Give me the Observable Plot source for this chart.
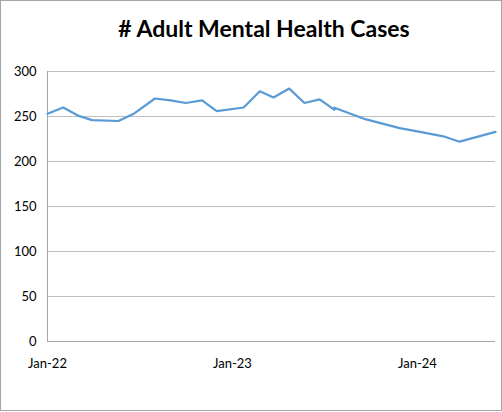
<!DOCTYPE html>
<html>
<head>
<meta charset="utf-8">
<script src="https://cdn.jsdelivr.net/npm/d3@7"></script>
<script src="https://cdn.jsdelivr.net/npm/@observablehq/plot@0.6"></script>
<style>
  html, body { margin: 0; padding: 0; background: #fff; }
  #chart { position: absolute; left: 0; top: 0; width: 500px; height: 409px; border: 1px solid #a6a6a6; background: #fff; font-family: Lato, "Open Sans", sans-serif; overflow: hidden; }
  #title { height: 49px; line-height: 54px; text-align: center; font-weight: bold; font-size: 23px; color: #000; padding-left: 26px; }
  #plot svg { display: block; }
</style>
</head>
<body>
<div id="chart">
  <div id="title"># Adult Mental Health Cases</div>
  <div id="plot"></div>
</div>
<script>
const dates = [
  "2022-01-01", "2022-02-01", "2022-03-02", "2022-03-30", "2022-05-21", "2022-06-20",
  "2022-08-01", "2022-09-01", "2022-10-01", "2022-11-02", "2022-12-01", "2023-01-23",
  "2023-02-24", "2023-03-23", "2023-04-23", "2023-05-23", "2023-06-22", "2023-07-22",
  "2023-07-20", "2023-09-20", "2023-11-27", "2024-01-06", "2024-02-21", "2024-03-24",
  "2024-06-03"
];
const cases = [
  253, 260, 251, 246, 245, 253,
  270, 268, 265, 268, 256, 260,
  278, 271, 281, 265, 269, 257,
  260, 247, 237, 233, 228, 222,
  233
];
const yTicks = [0, 50, 100, 150, 200, 250, 300];
const xTicks = ["2022-01-01", "2023-01-01", "2024-01-01"];

const data = dates.map((d, i) => ({date: new Date(d), value: cases[i]}));

const chart = Plot.plot({
  width: 500,
  height: 320,
  marginLeft: 46,
  marginRight: 6,
  marginTop: 21,
  marginBottom: 29,
  style: {fontFamily: "Lato, 'Open Sans', sans-serif", fontSize: "13px", color: "#000", background: "#fff"},
  x: {type: "utc", domain: [new Date("2022-01-01"), new Date("2024-06-03")]},
  y: {domain: [0, 300]},
  marks: [
    Plot.gridY(yTicks, {stroke: "#bfbfbf", strokeOpacity: 1, strokeWidth: 1}),
    Plot.ruleY([0], {stroke: "#a6a6a6", strokeWidth: 1}),
    Plot.ruleX([new Date("2022-01-01")], {stroke: "#a6a6a6", strokeWidth: 1}),
    Plot.axisY(yTicks, {tickSize: 0, tickPadding: 11, label: null, fontSize: 13}),
    Plot.axisX(xTicks.map(d => new Date(d)), {tickSize: 0, tickPadding: 17, label: null, fontSize: 13, tickFormat: d3.utcFormat("%b-%y")}),
    Plot.line(data, {x: "date", y: "value", stroke: "#5b9bd5", strokeWidth: 2.25, strokeLinejoin: "miter"})
  ]
});
document.getElementById("plot").appendChild(chart);
</script>
</body>
</html>
